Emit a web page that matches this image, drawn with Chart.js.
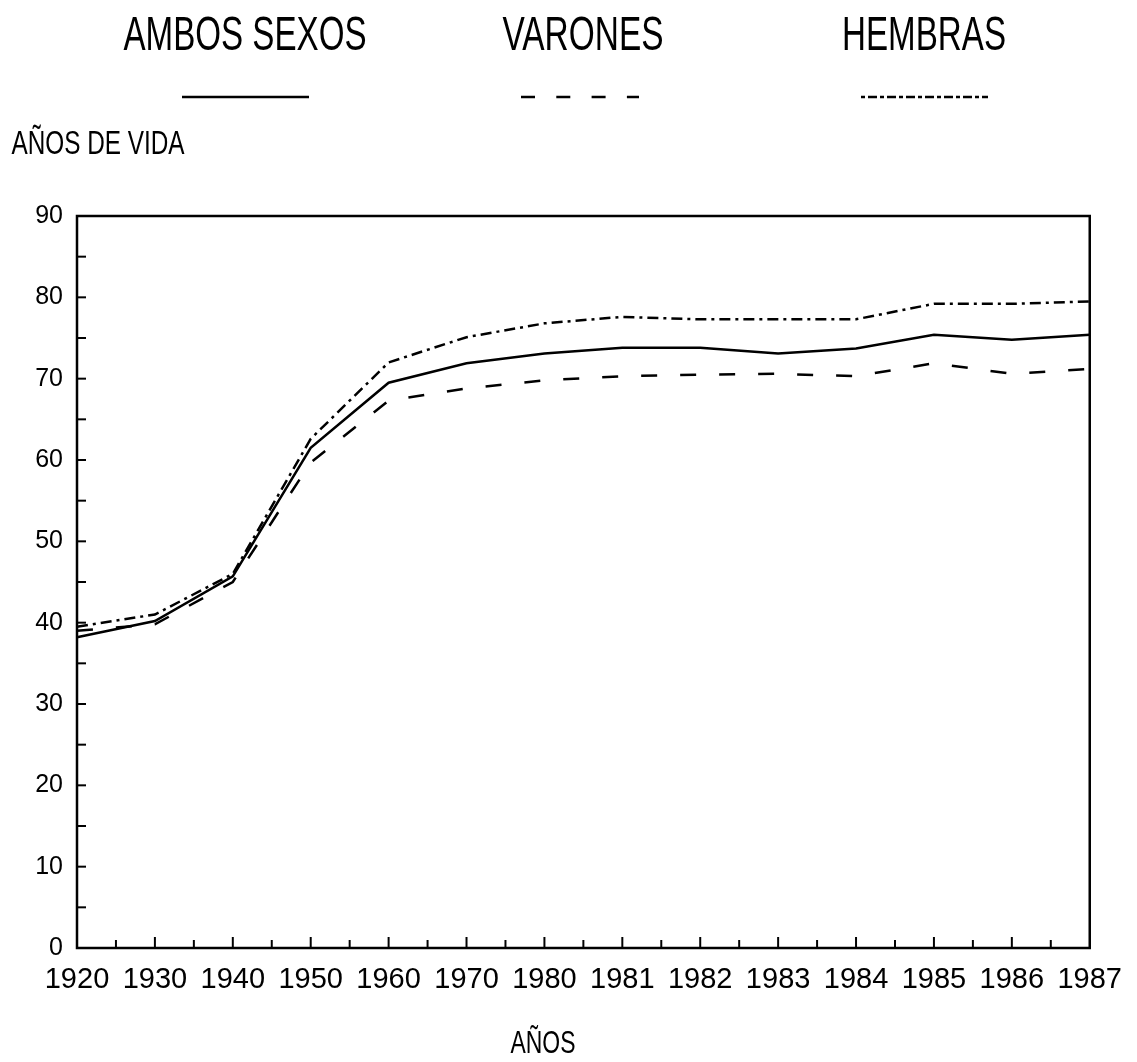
<!DOCTYPE html>
<html>
<head>
<meta charset="utf-8">
<script src="https://cdn.jsdelivr.net/npm/chart.js@4/dist/chart.umd.min.js"></script>
<style>
  html, body { margin: 0; padding: 0; background: #fff; }
  canvas { display: block; background: #fff; }
</style>
</head>
<body>
<canvas id="grafico" width="1137" height="1062"></canvas>
<script>
// Esperanza de vida (años de vida) por sexo
const anios = ['1920', '1930', '1940', '1950', '1960', '1970', '1980', '1981', '1982', '1983', '1984', '1985', '1986', '1987'];
const ambosSexos = [38.2, 40.2, 45.7, 61.5, 69.5, 71.9, 73.1, 73.8, 73.8, 73.1, 73.7, 75.4, 74.8, 75.4];
const varones    = [39.0, 39.8, 45.0, 59.7, 67.3, 68.8, 69.8, 70.3, 70.5, 70.6, 70.3, 71.9, 70.6, 71.2];
const hembras    = [39.5, 41.0, 46.0, 62.6, 72.0, 75.1, 76.8, 77.6, 77.3, 77.3, 77.3, 79.2, 79.2, 79.5];
const nombresSeries = ['AMBOS SEXOS', 'VARONES', 'HEMBRAS'];
const tituloY = 'AÑOS DE VIDA';
const tituloX = 'AÑOS';

const FUENTE = '"Liberation Sans", Arial, sans-serif';

// texto estrecho (tipo plotter): se escala a lo ancho deseado
function textoAngosto(ctx, texto, cx, base, size, ancho) {
    ctx.save();
    ctx.font = size + 'px ' + FUENTE;
    const w = ctx.measureText(texto).width;
    ctx.translate(cx, base);
    ctx.scale(ancho / w, 1);
    ctx.textAlign = 'center';
    ctx.textBaseline = 'alphabetic';
    ctx.fillStyle = '#000';
    ctx.fillText(texto, 0, 0);
    ctx.restore();
}

const decorado = {
    id: 'decorado',
    afterDraw(chart) {
        const ctx = chart.ctx;
        const area = chart.chartArea;
        const xs = chart.scales.x, ys = chart.scales.y;

        ctx.save();
        ctx.strokeStyle = '#000';
        ctx.lineWidth = 2.5;
        ctx.setLineDash([]);
        ctx.strokeRect(area.left, area.top, area.right - area.left, area.bottom - area.top);

        // marcas hacia adentro en eje Y (cada 5)
        ctx.lineWidth = 2;
        for (let v = 5; v < ys.max; v += 5) {
            const py = ys.getPixelForValue(v);
            ctx.beginPath();
            ctx.moveTo(area.left, py);
            ctx.lineTo(area.left + 9, py);
            ctx.stroke();
        }
        // marcas en eje X (categorias y medios)
        const n = chart.data.labels.length;
        for (let i = 0; i < n; i++) {
            const px = xs.getPixelForValue(i);
            if (i > 0 && i < n - 1) {
                ctx.beginPath();
                ctx.moveTo(px, area.bottom);
                ctx.lineTo(px, area.bottom - 11);
                ctx.stroke();
            }
            if (i < n - 1) {
                const mid = (px + xs.getPixelForValue(i + 1)) / 2;
                ctx.beginPath();
                ctx.moveTo(mid, area.bottom);
                ctx.lineTo(mid, area.bottom - 8);
                ctx.stroke();
            }
        }

        // leyenda: nombre arriba, muestra de linea debajo
        const centros = [245, 583, 924];
        const anchos = [243, 161, 164];
        const tramos = [[182, 309], [521, 639], [861, 988]];
        const trazosLeyenda = [[], [14, 21.3], [4, 3, 9, 3]];
        chart.data.datasets.forEach((ds, i) => {
            textoAngosto(ctx, ds.label, centros[i], 50, 48, anchos[i]);
            ctx.save();
            ctx.strokeStyle = '#000';
            ctx.lineWidth = 2.5;
            ctx.setLineDash(trazosLeyenda[i]);
            ctx.beginPath();
            ctx.moveTo(tramos[i][0], 97);
            ctx.lineTo(tramos[i][1], 97);
            ctx.stroke();
            ctx.restore();
        });

        // titulos de ejes
        textoAngosto(ctx, tituloY, 98, 154, 34, 173);
        textoAngosto(ctx, tituloX, 543, 1053, 32, 65);
        ctx.restore();
    }
};

const estiloBase = {
    borderColor: '#000',
    borderWidth: 2.5,
    pointRadius: 0,
    fill: false,
    tension: 0
};

new Chart(document.getElementById('grafico').getContext('2d'), {
    type: 'line',
    data: {
        labels: anios,
        datasets: [
            { ...estiloBase, label: nombresSeries[0], data: ambosSexos, borderDash: [] },
            { ...estiloBase, label: nombresSeries[1], data: varones, borderDash: [16, 23] },
            { ...estiloBase, label: nombresSeries[2], data: hembras, borderDash: [11, 5, 3, 5] }
        ]
    },
    options: {
        responsive: false,
        animation: false,
        layout: { padding: { top: 216, right: 46, left: 0, bottom: 0 } },
        plugins: {
            legend: { display: false },
            tooltip: { enabled: false }
        },
        scales: {
            x: {
                offset: false,
                grid: { display: false, drawTicks: false },
                border: { display: false },
                ticks: {
                    autoSkip: false, maxRotation: 0, minRotation: 0, padding: 15,
                    color: '#000', font: { family: FUENTE, size: 29 }
                },
                afterFit: s => { s.height = 114; }
            },
            y: {
                min: 0, max: 90,
                grid: { display: false, drawTicks: false },
                border: { display: false },
                ticks: { stepSize: 10, padding: 14, color: '#000', font: { family: FUENTE, size: 25 } },
                afterFit: s => { s.width = 77; }
            }
        }
    },
    plugins: [decorado]
});
</script>
</body>
</html>
